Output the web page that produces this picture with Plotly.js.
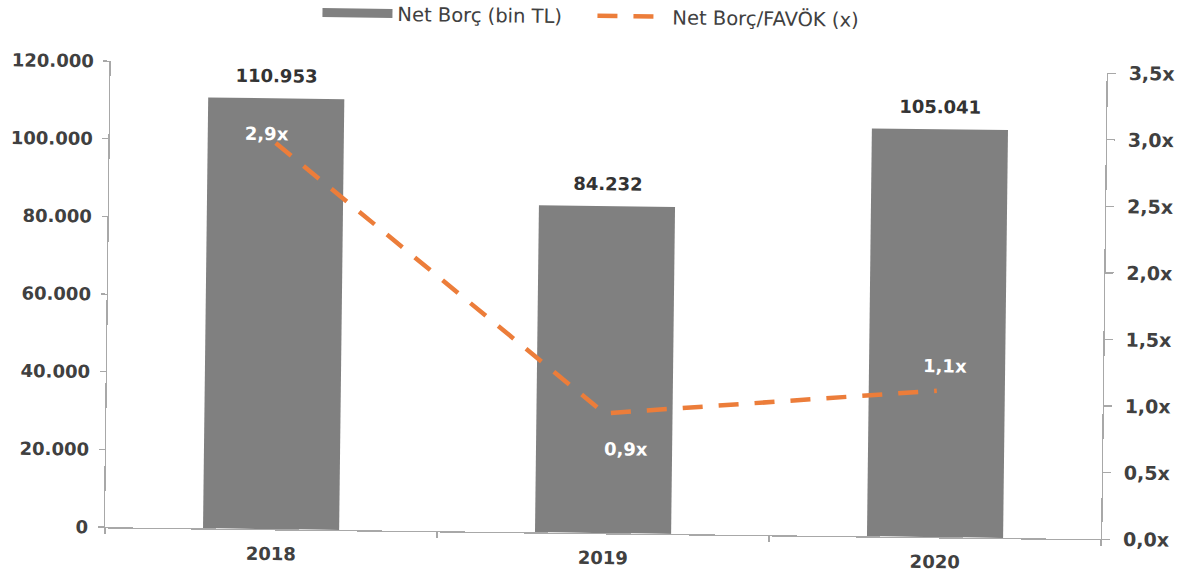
<!DOCTYPE html>
<html>
<head>
<meta charset="utf-8">
<script src="https://cdn.plot.ly/plotly-3.0.1.min.js"></script>
<style>
  html, body { margin: 0; padding: 0; background: #ffffff; overflow: hidden; }
  #chart {
    width: 1181px; height: 576px;
    transform: rotate(0.69deg);
    transform-origin: 50% 50%;
  }
</style>
</head>
<body>
<div id="chart"></div>
<script>
// Years on the category axis
const years = ['2018', '2019', '2020'];
// Net debt, thousand TL (bars, left axis)
const netDebt = [110953, 84232, 105041];
// Net debt / EBITDA multiple (dashed line, right axis)
const debtToEbitda = [2.9, 0.9, 1.1];
// Series names
const barName = 'Net Borç (bin TL)';
const lineName = 'Net Borç/FAVÖK (x)';

// Label placement for the multiple labels (pixels, relative to each point)
const ratioLabelShift = [
  { x: -9, y: 9 },
  { x: 22, y: -35 },
  { x: 8, y: 25 }
];

const FONT = 'DejaVu Sans, Verdana, sans-serif';
const TEXT = '#404040';
const AXIS = '#a8a8a8';
const BAR = '#808080';
const ORANGE = '#ec7d3a';

const fmtThousands = v => Math.round(v).toString().replace(/\B(?=(\d{3})+(?!\d))/g, '.');
const fmtMultiple = v => v.toFixed(1).replace('.', ',') + 'x';

const traces = [
  {
    type: 'bar',
    x: years,
    y: netDebt,
    name: barName,
    marker: { color: BAR },
    showlegend: false,
    hoverinfo: 'skip'
  },
  {
    // legend swatch for the bars: a thick grey stroke
    type: 'scatter',
    mode: 'lines',
    x: [null],
    y: [null],
    name: barName,
    line: { color: BAR, width: 9 },
    hoverinfo: 'skip'
  },
  {
    type: 'scatter',
    mode: 'lines',
    x: years,
    y: debtToEbitda,
    yaxis: 'y2',
    name: lineName,
    line: { color: ORANGE, width: 4.5, dash: '20px,16px' },
    hoverinfo: 'skip'
  }
];

// category axes take annotation positions as indices
const annotations = [];
years.forEach((yr, i) => {
  annotations.push({
    x: i, y: netDebt[i], xref: 'x', yref: 'y',
    text: fmtThousands(netDebt[i]),
    showarrow: false, yanchor: 'bottom', yshift: 10,
    font: { family: FONT, size: 18, color: '#333333', weight: 'bold' }
  });
  annotations.push({
    x: i, y: debtToEbitda[i], xref: 'x', yref: 'y2',
    text: fmtMultiple(debtToEbitda[i]),
    showarrow: false,
    xshift: ratioLabelShift[i].x, yshift: ratioLabelShift[i].y,
    font: { family: FONT, size: 18, color: '#ffffff', weight: 'bold' }
  });
});

const tickFont = { family: FONT, size: 18, color: TEXT, weight: 'bold' };

const layout = {
  width: 1181,
  height: 576,
  margin: { l: 108, r: 77, t: 67, b: 43, pad: 0, autoexpand: false },
  paper_bgcolor: '#ffffff',
  plot_bgcolor: '#ffffff',
  separators: ',.',
  bargap: 0.59,
  font: { family: FONT, color: TEXT },
  showlegend: true,
  legend: {
    orientation: 'h',
    xref: 'paper', x: 0.207, xanchor: 'left',
    yref: 'container', y: 0.972, yanchor: 'middle',
    itemwidth: 70,
    entrywidth: 190, entrywidthmode: 'pixels',
    font: { family: FONT, size: 19.5, color: TEXT },
    traceorder: 'normal'
  },
  xaxis: {
    type: 'category',
    range: [-0.5, 2.5],
    showline: true, linecolor: AXIS, linewidth: 1.3,
    ticks: 'outside', ticklen: 6, tickcolor: AXIS, tickwidth: 1.3,
    tickson: 'boundaries',
    ticklabelstandoff: 8,
    showgrid: false, zeroline: false,
    tickfont: tickFont
  },
  yaxis: {
    range: [0, 120000],
    tickvals: [0, 20000, 40000, 60000, 80000, 100000, 120000],
    tickformat: ',d',
    showline: true, linecolor: AXIS, linewidth: 1.3,
    ticks: 'outside', ticklen: 6, tickcolor: AXIS, tickwidth: 1.3,
    ticklabelstandoff: 6,
    showgrid: false, zeroline: false,
    tickfont: tickFont
  },
  yaxis2: {
    overlaying: 'y',
    side: 'right',
    range: [0, 3.5],
    dtick: 0.5, tick0: 0,
    tickformat: '.1f', ticksuffix: 'x',
    showline: true, linecolor: AXIS, linewidth: 1.3,
    ticks: 'outside', ticklen: 8, tickcolor: AXIS, tickwidth: 1.3,
    ticklabelstandoff: 9,
    showgrid: false, zeroline: false,
    tickfont: { family: FONT, size: 19, color: TEXT, weight: 'bold' }
  },
  annotations: annotations
};

Plotly.newPlot('chart', traces, layout, { staticPlot: true, displayModeBar: false });
</script>
</body>
</html>
